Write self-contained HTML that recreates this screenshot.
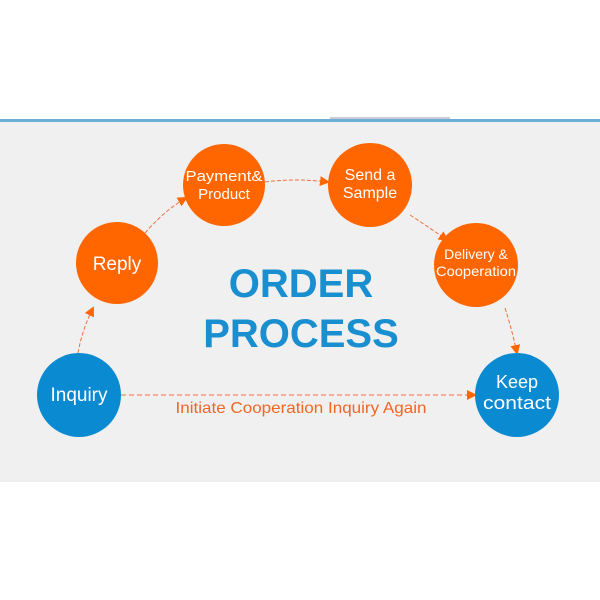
<!DOCTYPE html>
<html><head><meta charset="utf-8"><style>
html,body{margin:0;padding:0;background:#fff;}
svg{display:block;}
</style></head><body>
<svg width="600" height="600" viewBox="0 0 600 600" xmlns="http://www.w3.org/2000/svg">
<defs>
<marker id="a" markerWidth="10" markerHeight="10" refX="8" refY="5" orient="auto" markerUnits="userSpaceOnUse">
<path d="M0,0 L10,5 L0,10 z" fill="#ff6600"/>
</marker>
</defs>
<rect x="0" y="121" width="600" height="361" fill="#f0f0f0"/>
<rect x="0" y="119" width="600" height="3" fill="#6aaed6"/>
<rect x="330" y="117" width="120" height="2" fill="#c8ccd4"/>
<g fill="none" stroke="#f07040" stroke-width="1" stroke-dasharray="4,2">
<path d="M78,353 Q82,330 93,308" marker-end="url(#a)"/>
<path d="M145,233 Q165,210 186,198" marker-end="url(#a)"/>
<path d="M265,182 Q295,178 328,182" marker-end="url(#a)"/>
<path d="M410,215 Q430,228 447,240" marker-end="url(#a)"/>
<path d="M505,308 Q512,330 517,353" marker-end="url(#a)"/>
<path d="M121,395 L475,395" marker-end="url(#a)" stroke-dasharray="5,3"/>
</g>
<g fill="#ff6600">
<circle cx="117" cy="263" r="41"/>
<circle cx="224" cy="185" r="41"/>
<circle cx="370" cy="185" r="42"/>
<circle cx="476" cy="265" r="42"/>
</g>
<g fill="#0a8ad0">
<circle cx="79" cy="395" r="42"/>
<circle cx="517" cy="395" r="42"/>
</g>
<g font-family="Liberation Sans, sans-serif" fill="#fff" text-anchor="middle">
<text x="117" y="270" font-size="19">Reply</text>
<text x="224" y="181" font-size="15" textLength="77" lengthAdjust="spacingAndGlyphs">Payment&amp;</text>
<text x="224" y="199" font-size="15">Product</text>
<text x="370" y="180" font-size="16">Send a</text>
<text x="370" y="198" font-size="16">Sample</text>
<text x="476" y="259" font-size="14">Delivery &amp;</text>
<text x="476" y="276" font-size="14" textLength="80" lengthAdjust="spacingAndGlyphs">Cooperation</text>
<text x="79" y="401" font-size="19">Inquiry</text>
<text x="517" y="388" font-size="18">Keep</text>
<text x="517" y="409" font-size="18" textLength="68" lengthAdjust="spacingAndGlyphs">contact</text>
</g>
<g font-family="Liberation Sans, sans-serif" font-weight="bold" fill="#1a8fd0" text-anchor="middle">
<text x="301" y="297" font-size="40">ORDER</text>
<text x="301" y="347" font-size="40">PROCESS</text>
</g>
<text x="301" y="413" font-family="Liberation Sans, sans-serif" font-size="16" fill="#f26522" text-anchor="middle" textLength="251" lengthAdjust="spacingAndGlyphs">Initiate Cooperation Inquiry Again</text>
</svg>
</body></html>
